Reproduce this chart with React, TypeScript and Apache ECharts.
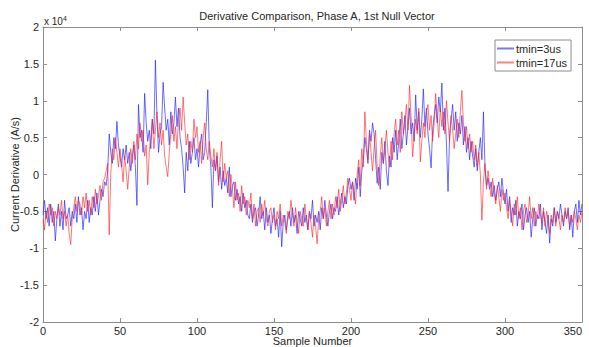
import React, { useEffect, useRef } from "react";
import * as echarts from "echarts";

const titleText = "Derivative Comparison, Phase A, 1st Null Vector";
const xName = "Sample Number";
const yName = "Current Derivative (A/s)";
const seriesNames = ["tmin=3us", "tmin=17us"];

// values in units of 1e4 A/s, sample 0..350
const blue = [
  -0.55, -0.35, -0.6, -0.45, -0.7, -0.4, -0.65, -0.5, -0.9, -0.6,
  -0.4, -0.7, -0.5, -0.75, -0.35, -0.6, -0.55, -0.45, -0.7, -0.5,
  -0.6, -0.4, -0.65, -0.3, -0.55, -0.45, -0.75, -0.5, -0.6, -0.35,
  -0.65, -0.45, -0.55, -0.3, -0.5, -0.25, -0.55, -0.35, -0.2, -0.3,
  -0.1, -0.15, 0.05, 0.55, 0.3, 0.15, 0.5, 0.35, 0.72, 0.4,
  0.25, 0.1, 0.35, 0.2, 0.4, 0.15, 0.3, 0.05, 0.25, 0.4,
  0.1, -0.42, 0.95, 0.5, 0.6, 0.3, 1.1, 0.7, 0.45, 0.6,
  0.35, 0.75, 0.55, 1.55, 0.8, 0.3, 0.55, 0.65, 1.25, 0.9,
  0.6, 0.75, 0.4, 0.85, 0.55, 0.7, 1.05, 0.65, 0.9, 0.5,
  0.35, 0.1, -0.25, 0.3, 0.05, 0.45, 0.15, 0.3, 0.5, 0.2,
  0.35, 0.1, 0.4, 0.55, 0.2, 0.3, 0.7, 1.15, 0.35, 0.1,
  -0.45, 0.2, 0.05, 0.25, -0.1, 0.1, -0.2, 0.05, -0.15, -0.05,
  -0.25, 0.1, -0.3, -0.15, -0.1, -0.35, -0.2, -0.4, -0.3, -0.5,
  -0.25, -0.45, -0.35, -0.55, -0.6, -0.4, -0.65, -0.5, -0.45, -0.7,
  -0.55, -0.3, -0.6, -0.5, -0.75, -0.45, -0.65, -0.55, -0.8, -0.6,
  -0.45, -0.7, -0.6, -0.85, -0.5, -0.98, -0.65, -0.55, -0.75, -0.6,
  -0.5, -0.7, -0.45, -0.65, -0.55, -0.8, -0.5, -0.6, -0.7, -0.45,
  -0.65, -0.55, -0.75, -0.5, -0.6, -0.35, -0.7, -0.55, -0.65, -0.5,
  -0.75, -0.45, -0.6, -0.35, -0.55, -0.7, -0.5, -0.4, -0.6, -0.45,
  -0.5, -0.3, -0.55, -0.4, -0.25, -0.45, -0.3, -0.4, -0.15, -0.05,
  -0.2, -0.1, -0.35, -0.05, -0.2, 0.1, -0.3, 0.05, 0.2, 0.5,
  0.35, 0.15, 0.6, 0.45, 0.7, 0.55, 0.2, -0.12, 0.1, -0.2,
  0.3, 0.15, 0.45, 0.05, -0.15, 0.25, 0.1, 0.5, 0.3, 0.6,
  0.2, 0.45, 0.75, 0.35, 0.55, 0.8, 0.4, 0.65, 0.9, 0.55,
  0.7, 0.45, 1.08, 0.6, 0.85, 0.5, 0.75, 1.16, 0.65, 0.9,
  0.55, 0.35, 0.09, 0.6, 0.8, 0.95, 0.7, 1.05, 0.85, 1.24,
  0.6, 0.9, 0.4, -0.23, 0.5, 0.75, 0.95, 0.6, 0.85, 0.45,
  0.7, 0.55, 0.8, 0.4, 0.65, 0.3, 0.5, 0.2, 0.45, 0.25,
  0.1, 0.35, 0.05, 0.3, 0.5, 0.2, 0.85, 0.1, -0.15, -0.05,
  -0.2, -0.1, -0.3, -0.15, -0.35, -0.2, -0.1, -0.3, -0.05, -0.25,
  -0.4, -0.2, -0.5, -0.3, -0.65, -0.45, -0.55, -0.35, -0.7, -0.5,
  -0.6, -0.4, -0.75, -0.55, -0.45, -0.65, -0.5, -0.85, -0.6, -0.45,
  -0.7, -0.55, -0.6, -0.4, -0.75, -0.5, -0.65, -0.8, -0.55, -0.93,
  -0.6, -0.7, -0.45, -0.65, -0.5, -0.6, -0.4, -0.55, -0.7, -0.5,
  -0.6, -0.45, -0.75, -0.55, -0.85, -0.5, -0.4, -0.65, -0.35, -0.55,
  -0.4,
];

const red = [
  -0.6, -0.75, -0.5, -0.65, -0.4, -0.55, -0.45, -0.7, -0.5, -0.6,
  -0.45, -0.55, -0.35, -0.6, -0.5, -0.7, -0.55, -0.8, -0.95, -0.6,
  -0.45, -0.3, -0.5, -0.35, -0.4, -0.55, -0.3, -0.45, -0.25, -0.5,
  -0.35, -0.55, -0.3, -0.45, -0.2, -0.4, -0.3, -0.15, -0.35, -0.1,
  -0.05, 0.05, 0.15, -0.82, 0.0, 0.35, 0.2, 0.5, 0.3, 0.1,
  0.35, 0.15, -0.1, 0.25, 0.05, -0.2, 0.1, 0.35, 0.15, 0.45,
  0.2, 0.55, 0.35, 0.7, 0.45, 0.6, 0.25, 0.4, -0.14, 0.3,
  0.5, 0.75, 0.35, 0.6, 0.85, 0.5, 0.7, 0.4, 0.6, 0.25,
  0.1, -0.03, 0.3, 0.55, 0.8, 0.45, 0.65, 0.35, 0.75, 0.9,
  0.6, 1.05, 0.7, 0.4, 0.55, 0.2, 0.45, 0.3, 0.75, 0.5,
  0.65, 0.3, 0.45, 0.15, 0.5, 0.7, 0.35, 0.2, 0.45, 0.25,
  0.1, 0.35, 0.05, 0.3, -0.15, 0.2, 0.45, -0.1, 0.15, -0.05,
  0.05, -0.3, 0.0, -0.2, -0.45, -0.1, -0.35, -0.25, -0.5, -0.15,
  -0.4, -0.3, -0.55, -0.35, -0.45, -0.25, -0.6, -0.4, -0.7, -0.5,
  -0.45, -0.65, -0.4, -0.55, -0.35, -0.6, -0.7, -0.5, -0.45, -0.65,
  -0.55, -0.75, -0.5, -0.6, -0.4, -0.7, -0.55, -0.65, -0.8, -0.5,
  -0.6, -0.35, -0.55, -0.7, -0.45, -0.65, -0.8, -0.5, -0.6, -0.7,
  -0.4, -0.6, -0.75, -0.5, -0.65, -0.85, -0.55, -0.7, -0.94, -0.6,
  -0.5, -0.3, -0.6, -0.45, -0.7, -0.5, -0.35, -0.6, -0.4, -0.55,
  -0.3, -0.45, -0.2, -0.5, -0.35, -0.15, -0.4, -0.25, -0.05, -0.2,
  -0.35, -0.1, -0.25, -0.4, 0.0, 0.2, -0.15, 0.35, 0.1, 0.85,
  0.45, 0.2, 0.55, 0.3, 0.05, 0.35, 0.6, 0.1, -0.15, 0.25,
  0.5, 0.15, 0.35, 0.6, 0.3, 0.1, 0.45, 0.2, 0.55, 0.75,
  0.4, 0.6, 0.3, 0.85, 0.55, 0.7, 0.95, 0.6, 1.21, 0.8,
  0.24, 0.5, 0.75, 0.55, 0.9, 0.17, 0.45, 0.7, 0.5, 0.85,
  0.95, 0.6, 0.8, 0.45, 0.7, 1.1, 0.75, 0.5, 0.9, 0.65,
  0.85, 0.55, 1.0, 0.7, 0.45, 0.8, 0.6, 0.35, 0.55, 0.75,
  0.5, 0.85, 1.14, 0.7, 0.45, 0.65, 0.35, 0.55, 0.3, 0.45,
  0.2, 0.4, 0.1, 0.3, 0.0, -0.62, -0.1, 0.15, -0.2, 0.05,
  -0.15, -0.3, -0.05, -0.25, -0.4, -0.15, -0.3, -0.5, -0.2, -0.35,
  -0.25, -0.45, -0.6, -0.35, -0.5, -0.7, -0.4, -0.55, -0.3, -0.6,
  -0.45, -0.75, -0.5, -0.4, -0.65, -0.55, -0.3, -0.6, -0.45, -0.7,
  -0.5, -0.6, -0.4, -0.55, -0.65, -0.45, -0.7, -0.5, -0.6, -0.8,
  -0.55, -0.65, -0.45, -0.7, -0.5, -0.6, -0.75, -0.55, -0.65, -0.45,
  -0.6, -0.5, -0.7, -0.55, -0.65, -0.5, -0.6, -0.75, -0.55, -0.65,
  -0.5,
];

const FONT = "'Liberation Sans', Arial, sans-serif";
const AXIS_COLOR = "#8c8c8c";
const TEXT_COLOR = "#262626";

export default function App() {
  const ref = useRef<HTMLDivElement>(null);
  useEffect(() => {
    if (!ref.current) return;
    const chart = echarts.init(ref.current, undefined, { renderer: "svg" });
    const hiddenAxisCommon = {
      axisLine: { show: true, onZero: false, lineStyle: { color: AXIS_COLOR, width: 1 } },
      axisTick: { show: true, inside: true, length: 4, lineStyle: { color: AXIS_COLOR } },
      axisLabel: { show: false },
      splitLine: { show: false },
    };
    chart.setOption({
      animation: false,
      backgroundColor: "#ffffff",
      textStyle: { fontFamily: FONT },
      title: {
        text: titleText,
        left: 312,
        textAlign: "center",
        top: 5,
        textStyle: { fontSize: 11, fontWeight: "normal", color: TEXT_COLOR, fontFamily: FONT },
      },
      legend: {
        orient: "vertical",
        left: 495,
        top: 40,
        padding: [3, 4, 3, 2],
        itemGap: 3,
        itemWidth: 17,
        itemHeight: 2,
        borderColor: "#8c8c8c",
        borderWidth: 1,
        backgroundColor: "#ffffff",
        textStyle: { fontSize: 11, color: TEXT_COLOR, fontFamily: FONT, padding: [0, 0, 0, -3] },
        data: [
          { name: seriesNames[0], icon: "rect" },
          { name: seriesNames[1], icon: "rect" },
        ],
      },
      graphic: [
        {
          type: "text",
          left: 44,
          top: 15,
          style: {
            text: "x 10{sup|4}",
            fontSize: 10,
            fill: TEXT_COLOR,
            fontFamily: FONT,
            rich: { sup: { fontSize: 7, verticalAlign: "top", padding: [0, 0, 6, 0], fill: TEXT_COLOR } },
          },
        },
      ],
      grid: { left: 43, right: 7, top: 27, bottom: 25, containLabel: false, outerBoundsMode: "none" },
      xAxis: [
        {
          type: "value",
          min: 0,
          max: 350,
          interval: 50,
          position: "bottom",
          name: xName,
          nameLocation: "middle",
          nameGap: 13,
          nameMoveOverlap: false,
          nameTextStyle: { fontSize: 11, color: TEXT_COLOR, fontFamily: FONT, verticalAlign: "top", lineHeight: 11 },
          axisLine: { show: true, onZero: false, lineStyle: { color: AXIS_COLOR, width: 1 } },
          axisTick: { show: true, inside: true, length: 4, lineStyle: { color: AXIS_COLOR } },
          axisLabel: { fontSize: 11, color: TEXT_COLOR, margin: 3, fontFamily: FONT, alignMaxLabel: "right" },
          splitLine: { show: false },
        },
        { type: "value", min: 0, max: 350, interval: 50, position: "top", ...hiddenAxisCommon },
      ],
      yAxis: [
        {
          type: "value",
          min: -2,
          max: 2,
          interval: 0.5,
          position: "left",
          name: yName,
          nameLocation: "middle",
          nameGap: 23,
          nameMoveOverlap: false,
          nameTextStyle: { fontSize: 11, color: TEXT_COLOR, fontFamily: FONT },
          axisLine: { show: true, onZero: false, lineStyle: { color: AXIS_COLOR, width: 1 } },
          axisTick: { show: true, inside: true, length: 4, lineStyle: { color: AXIS_COLOR } },
          axisLabel: { fontSize: 11, color: TEXT_COLOR, margin: 4, fontFamily: FONT },
          splitLine: { show: false },
        },
        { type: "value", min: -2, max: 2, interval: 0.5, position: "right", ...hiddenAxisCommon },
      ],
      series: [
        {
          name: seriesNames[0],
          type: "line",
          data: blue.map((v, i) => [i, v]),
          showSymbol: false,
          color: "#7777ff",
          lineStyle: { width: 1, color: "rgba(30,30,255,0.65)" },
        },
        {
          name: seriesNames[1],
          type: "line",
          data: red.map((v, i) => [i, v]),
          showSymbol: false,
          color: "#ff8080",
          lineStyle: { width: 1, color: "rgba(255,30,30,0.6)" },
        },
      ],
    });
    return () => chart.dispose();
  }, []);
  return <div ref={ref} style={{ width: 589, height: 347, position: "absolute", left: 0, top: 0 }} />;
}
